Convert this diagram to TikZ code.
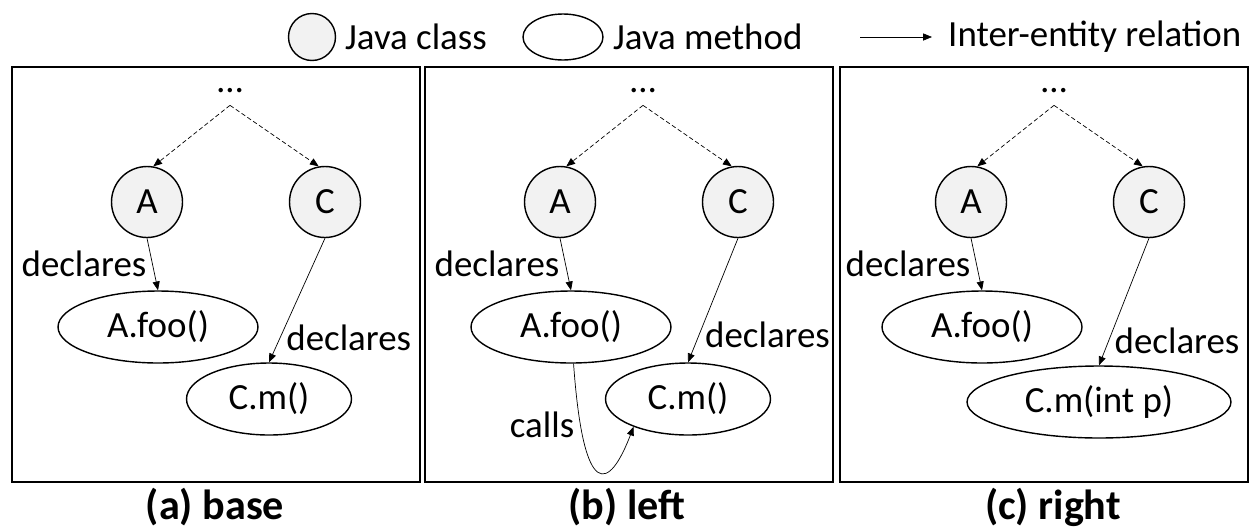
\documentclass[tikz,border=0pt]{standalone}
\usepackage{fontspec}
\setmainfont{Carlito}
\usetikzlibrary{arrows.meta,shapes.geometric}

\tikzset{
  cls/.style={draw, circle, fill=black!5, line width=0.8pt, minimum size=1.42cm, inner sep=0pt},
  mth/.style={draw, ellipse, line width=0.8pt, minimum height=1.44cm, inner sep=0pt},
  rel/.style={-{Triangle[length=5pt,width=4pt]}, line width=0.4pt},
  hidden/.style={rel, dash pattern=on 2.5pt off 1.5pt},
}

\begin{document}
\begin{tikzpicture}[x=0.02cm, y=0.02cm, font=\fontsize{21}{25}\selectfont]
  \useasboundingbox (0,0) rectangle (1250,529);

  % legend
  \node[cls, minimum size=0.94cm] (lc) at (312,492) {};
  \node[anchor=west] (lct) at (339,492) {Java class};
  \node[mth, minimum width=1.6cm, minimum height=0.92cm] (lm) at (563,492) {};
  \node[anchor=west] (lmt) at (607,492) {Java method};
  \coordinate (la) at (860,492);
  \coordinate (lb) at (932,492);
  \draw[rel] (la) -- (lb);
  \node[anchor=west] (lrt) at (942,492) {Inter-entity relation};

  % the parts every panel shares
  \foreach \pn/\ox/\bx/\cx/\ttl in {a/0/12/215/{(a) base}, b/413/425/627/{(b) left}, c/824/840/1053/{(c) right}}{
    \draw[line width=1.2pt] (\bx,47) rectangle ({\bx+408},462);
    \node[minimum height=0.56cm] (top-\pn) at ({230+\ox},438) {\dots};
    \node[cls] (A-\pn) at ({147+\ox},327) {A};
    \node[cls] (C-\pn) at ({325+\ox},327) {C};
    \node[mth, minimum width=4cm] (foo-\pn) at ({158+\ox},202) {A.foo()};
    \draw[hidden] (top-\pn.south) -- (A-\pn.80);
    \draw[hidden] (top-\pn.south) -- (C-\pn.100);
    \draw[rel] (A-\pn.south) -- node[left, pos=0.5] {declares} (foo-\pn.north);
    \node[inner sep=0pt, font=\fontsize{24}{28}\selectfont\bfseries] (cap-\pn) at (\cx,22) {\ttl};
  }

  % (a)
  \node[mth, minimum width=3.3cm] (m-a) at (269,130) {C.m()};
  \draw[rel] (C-a.south) -- node[right, pos=0.8] {declares} (m-a.north);

  % (b)
  \node[mth, minimum width=3.3cm] (m-b) at (688,130) {C.m()};
  \draw[rel] (C-b.south) -- node[right, pos=0.78] {declares} (m-b.north);
  \draw[rel] (foo-b.-86) .. controls +(10,-140) and +(-24,-63) .. node[left, pos=0.18] {calls} (m-b.-153);

  % (c)
  \node[mth, minimum width=5.28cm] (m-c) at (1099,127) {C.m(int p)};
  \draw[rel] (C-c.south) -- node[right, pos=0.81] {declares} (m-c.north);
\end{tikzpicture}
\end{document}
